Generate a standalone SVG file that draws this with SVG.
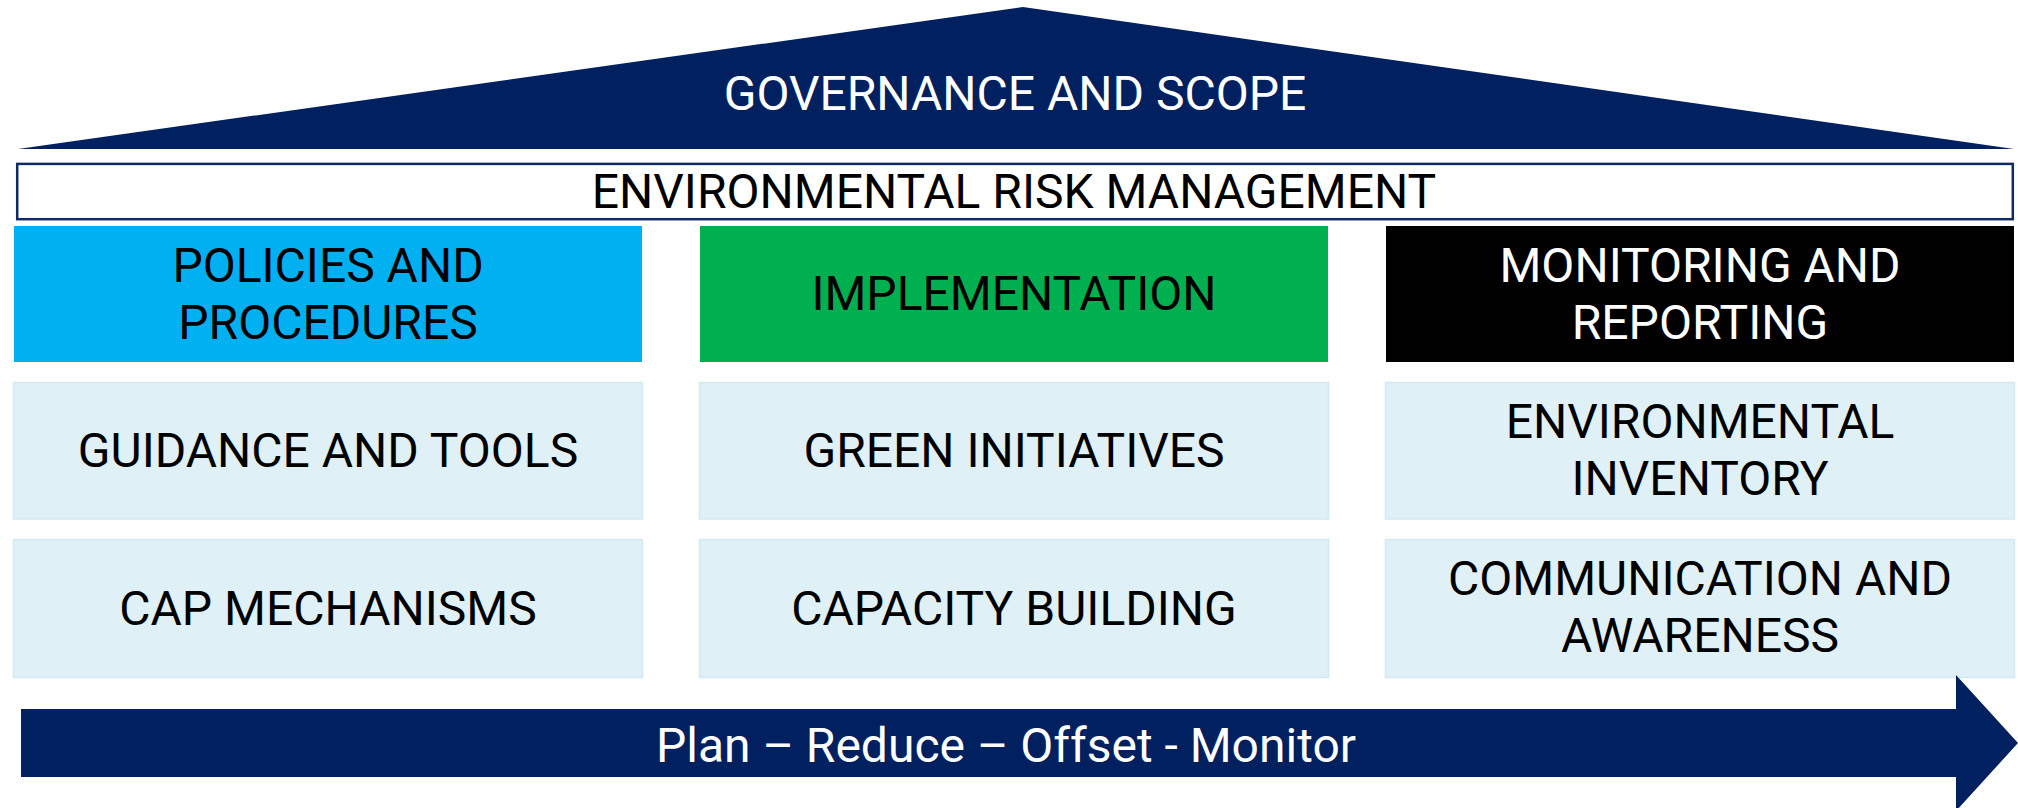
<svg xmlns="http://www.w3.org/2000/svg" width="2018" height="808" viewBox="0 0 2018 808">
<style>
text{font-family:Roboto,"Liberation Sans",sans-serif;font-size:48px;text-anchor:middle}
.w{fill:#ffffff}
.k{fill:#000000}
.cell{fill:#DFF0F6;stroke:#D2EAF2;stroke-width:1.5}
</style>
<rect width="2018" height="808" fill="#ffffff"/>
<g id="governance">
<polygon points="1023,7 18,149 2014,149" fill="#002060"/>
<text class="w" x="1015" y="110">GOVERNANCE AND SCOPE</text>
</g>
<g id="erm">
<rect x="17.2" y="163.9" width="1995.6" height="55.3" fill="#ffffff" stroke="#0F2A66" stroke-width="2.5"/>
<text class="k" x="1014" y="208">ENVIRONMENTAL RISK MANAGEMENT</text>
</g>
<g id="policies">
<rect x="14" y="226" width="628" height="136" fill="#00B0F0"/>
<text class="k" x="328" y="282">POLICIES AND</text>
<text class="k" x="328" y="339">PROCEDURES</text>
</g>
<g id="implementation">
<rect x="700" y="226" width="628" height="136" fill="#00B050"/>
<text class="k" x="1014" y="310">IMPLEMENTATION</text>
</g>
<g id="monitoring">
<rect x="1386" y="226" width="628" height="136" fill="#000000"/>
<text class="w" x="1700" y="282">MONITORING AND</text>
<text class="w" x="1700" y="339">REPORTING</text>
</g>
<g id="guidance">
<rect class="cell" x="13.5" y="382.5" width="629" height="136.5"/>
<text class="k" x="328" y="467">GUIDANCE AND TOOLS</text>
</g>
<g id="cap">
<rect class="cell" x="13.5" y="539.5" width="629" height="138"/>
<text class="k" x="328" y="625">CAP MECHANISMS</text>
</g>
<g id="green">
<rect class="cell" x="699.5" y="382.5" width="629" height="136.5"/>
<text class="k" x="1014" y="467">GREEN INITIATIVES</text>
</g>
<g id="capacity">
<rect class="cell" x="699.5" y="539.5" width="629" height="138"/>
<text class="k" x="1014" y="625">CAPACITY BUILDING</text>
</g>
<g id="inventory">
<rect class="cell" x="1385.5" y="382.5" width="629" height="136.5"/>
<text class="k" x="1700" y="438">ENVIRONMENTAL</text>
<text class="k" x="1700" y="495">INVENTORY</text>
</g>
<g id="communication">
<rect class="cell" x="1385.5" y="539.5" width="629" height="138"/>
<text class="k" x="1700" y="595">COMMUNICATION AND</text>
<text class="k" x="1700" y="652">AWARENESS</text>
</g>
<g id="connectors">
<g id="process-arrow">
<polygon points="21,709 1956,709 1956,675 2018,743 1956,811 1956,777 21,777" fill="#002060"/>
<text class="w" x="1006" y="762">Plan – Reduce – Offset - Monitor</text>
</g>
</g>
</svg>
